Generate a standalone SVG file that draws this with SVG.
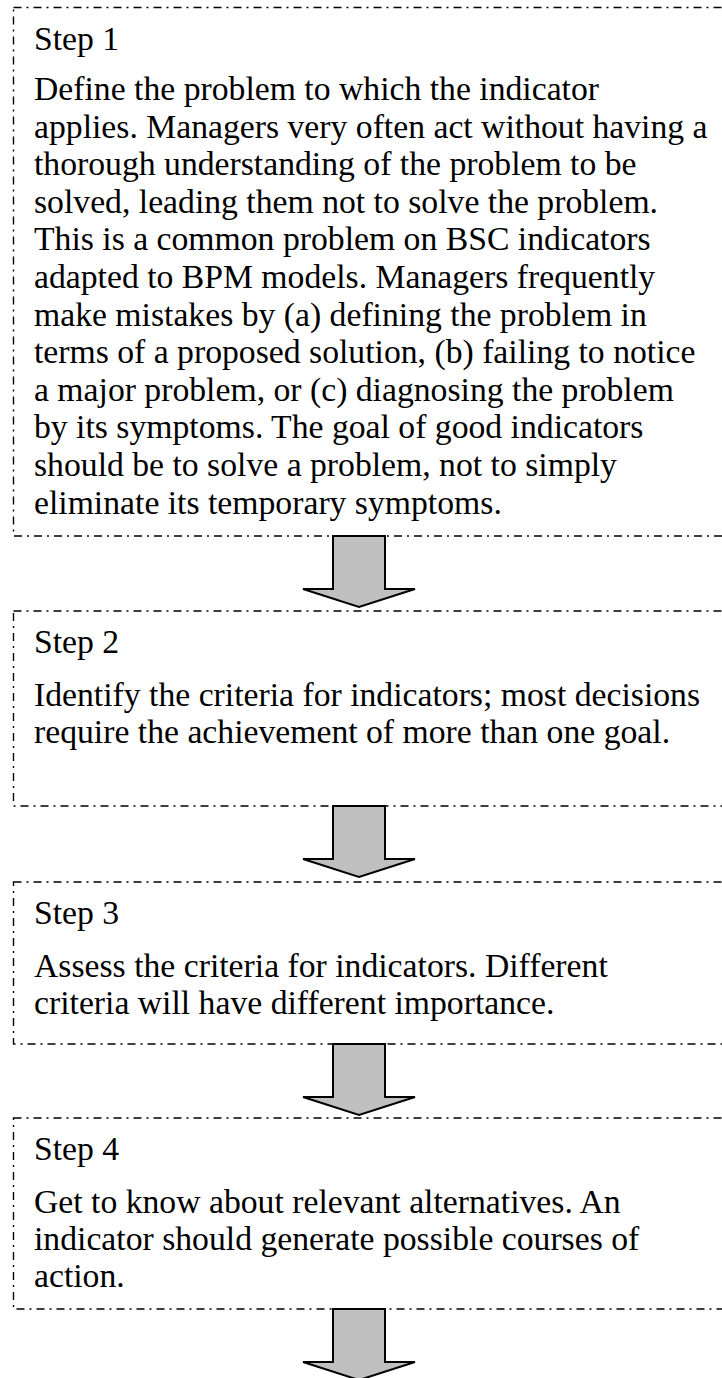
<svg xmlns="http://www.w3.org/2000/svg" width="722" height="1378" viewBox="0 0 722 1378">
<style>
.box{fill:none;stroke:#000;stroke-width:1.4;stroke-dasharray:8 5 2 5}
.t{font-family:"Liberation Serif","Times New Roman",serif;font-size:33.7px;fill:#000}
.arr{fill:#c0c0c0;stroke:#000;stroke-width:2;stroke-linejoin:miter}
</style>
<rect width="722" height="1378" fill="#fff"/>
<g id="step1">
<rect class="box" x="13.5" y="7.5" width="740" height="528.5"/>
<text class="t" x="34" y="50">Step 1</text>
<text class="t" x="34" y="100">Define the problem to which the indicator</text>
<text class="t" x="34" y="137.6">applies. Managers very often act without having a</text>
<text class="t" x="34" y="175.2">thorough understanding of the problem to be</text>
<text class="t" x="34" y="212.8">solved, leading them not to solve the problem.</text>
<text class="t" x="34" y="250.4">This is a common problem on BSC indicators</text>
<text class="t" x="34" y="288">adapted to BPM models. Managers frequently</text>
<text class="t" x="34" y="325.6">make mistakes by (a) defining the problem in</text>
<text class="t" x="34" y="363.2">terms of a proposed solution, (b) failing to notice</text>
<text class="t" x="34" y="400.8">a major problem, or (c) diagnosing the problem</text>
<text class="t" x="34" y="438.4">by its symptoms. The goal of good indicators</text>
<text class="t" x="34" y="476">should be to solve a problem, not to simply</text>
<text class="t" x="34" y="513.6">eliminate its temporary symptoms.</text>
</g>
<g id="step2">
<rect class="box" x="13.5" y="611" width="740" height="195"/>
<text class="t" x="34" y="653">Step 2</text>
<text class="t" x="34" y="706">Identify the criteria for indicators; most decisions</text>
<text class="t" x="34" y="743">require the achievement of more than one goal.</text>
</g>
<g id="step3">
<rect class="box" x="13.5" y="882" width="740" height="162"/>
<text class="t" x="34" y="924">Step 3</text>
<text class="t" x="34" y="977">Assess the criteria for indicators. Different</text>
<text class="t" x="34" y="1014">criteria will have different importance.</text>
</g>
<g id="step4">
<rect class="box" x="13.5" y="1118" width="740" height="191"/>
<text class="t" x="34" y="1160">Step 4</text>
<text class="t" x="34" y="1213">Get to know about relevant alternatives. An</text>
<text class="t" x="34" y="1250">indicator should generate possible courses of</text>
<text class="t" x="34" y="1287">action.</text>
</g>
<g id="connectors">
<path class="arr" d="M333 536 H385 V589 H415 L359 607 L303 589 H333 Z"/>
<path class="arr" d="M333 806 H385 V859 H415 L359 877 L303 859 H333 Z"/>
<path class="arr" d="M333 1044 H385 V1097 H415 L359 1115 L303 1097 H333 Z"/>
<path class="arr" d="M333 1309 H385 V1362 H415 L359 1380 L303 1362 H333 Z"/>
</g>
</svg>
